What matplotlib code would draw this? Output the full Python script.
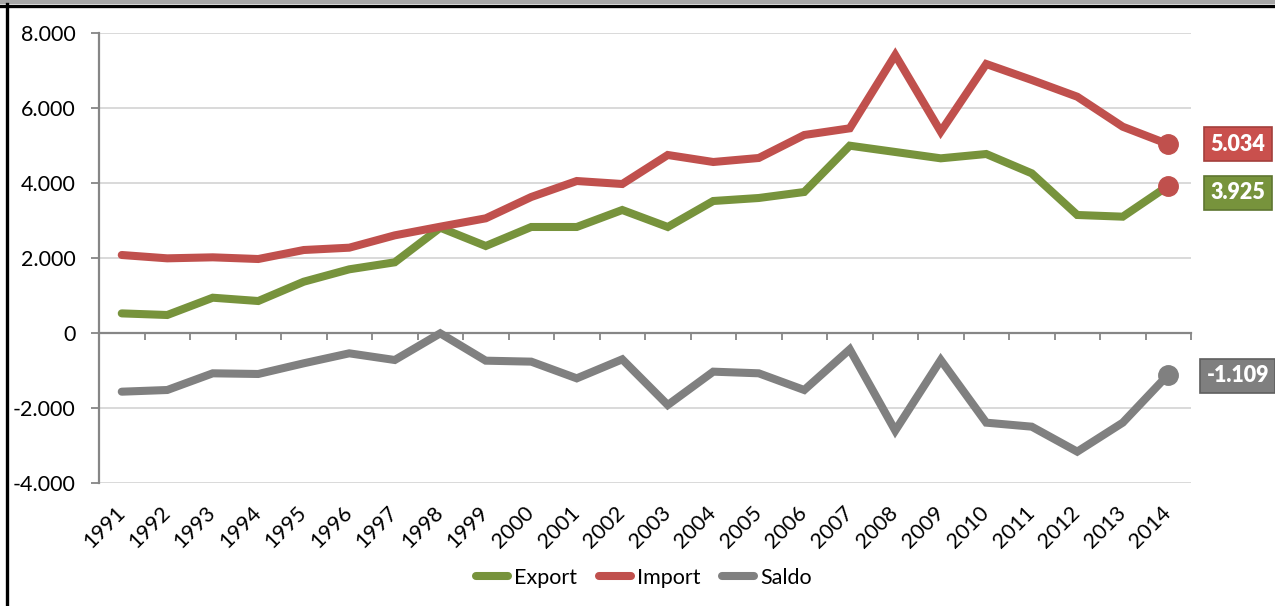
import numpy as np
import matplotlib
matplotlib.use('Agg')
import matplotlib.pyplot as plt
from matplotlib.ticker import FuncFormatter
from matplotlib.lines import Line2D
from matplotlib.patches import Rectangle

plt.rcParams['font.family'] = ['Lato', 'DejaVu Sans']

years = [str(y) for y in range(1991, 2015)]
export = [523, 480, 941, 853, 1368, 1698, 1885, 2808, 2320, 2827, 2827, 3280,
          2827, 3520, 3600, 3760, 4995, 4827, 4658, 4773, 4258, 3147, 3102, 3925]
imports = [2080, 1991, 2018, 1973, 2213, 2275, 2604, 2835, 3058, 3627, 4053, 3973,
           4747, 4560, 4667, 5280, 5458, 7413, 5369, 7173, 6747, 6301, 5501, 5034]
saldo = [-1565, -1520, -1075, -1093, -808, -542, -720, -9, -738, -764, -1209, -702,
         -1920, -1031, -1075, -1520, -436, -2604, -720, -2391, -2498, -3164, -2391, -1109]
end_labels = ['3.925', '5.034', '-1.109']

GREEN = '#77933C'
RED = '#C0504D'
GREY = '#808080'

x = np.arange(len(years))

fig = plt.figure(figsize=(12.75, 6.06), dpi=100)
ax = fig.add_axes([99/1275, 1-483/606, (1191-99)/1275, 450/606])

lw = 5.8
ax.plot(x, export, color=GREEN, lw=lw, solid_capstyle='round', solid_joinstyle='miter', label='Export', zorder=3)
ax.plot(x, imports, color=RED, lw=lw, solid_capstyle='round', solid_joinstyle='miter', label='Import', zorder=3)
ax.plot(x, saldo, color=GREY, lw=lw, solid_capstyle='round', solid_joinstyle='miter', label='Saldo', zorder=3)

# end markers (export end point is drawn red in the original)
ax.plot(x[-1], export[-1], 'o', color=RED, ms=14, zorder=4)
ax.plot(x[-1], imports[-1], 'o', color=RED, ms=14, zorder=4)
ax.plot(x[-1], saldo[-1], 'o', color=GREY, ms=14, zorder=4)

# value boxes to the right
for val, txt, fc, ec, dy in [(export[-1], end_labels[0], '#77933C', '#5E7530', -5),
                             (imports[-1], end_labels[1], '#C9504D', '#A33F3C', 0),
                             (saldo[-1], end_labels[2], '#7F7F7F', '#5F5F5F', -1)]:
    ax.annotate(txt, xy=(x[-1], val), xytext=(50, dy), textcoords='offset points',
                ha='center', va='center', color='white', fontsize=15.5, fontweight='heavy',
                bbox=dict(boxstyle='square,pad=0.3', fc=fc, ec=ec, lw=1.2),
                annotation_clip=False)

ax.set_xlim(-0.5, len(years) - 0.5)
ax.set_ylim(-4000, 8000)
ax.set_yticks(np.arange(-4000, 8001, 2000))
ax.yaxis.set_major_formatter(FuncFormatter(lambda v, p: '{:,.0f}'.format(v).replace(',', '.')))
ax.yaxis.grid(True, color='#D9D9D9', lw=1.4)
ax.set_axisbelow(True)

for s in ['top', 'right']:
    ax.spines[s].set_visible(False)
ax.spines['left'].set_color('#868686')
ax.spines['left'].set_linewidth(1.6)
ax.spines['bottom'].set_position(('data', 0))
ax.spines['bottom'].set_color('#868686')
ax.spines['bottom'].set_linewidth(1.6)
ax.spines['bottom'].set_zorder(2)

ax.set_xticks(np.arange(-0.5, len(years), 1))
ax.tick_params(axis='x', length=5, width=1.3, color='#868686', labelbottom=False, direction='out')
ax.tick_params(axis='y', length=6, width=1.3, color='#868686', labelsize=15.5, pad=11)

sec = ax.secondary_xaxis(0)
sec.set_xticks(x, labels=years, rotation=45, ha='right', va='center', rotation_mode='anchor')
sec.tick_params(length=0, pad=19, labelsize=15.5)
sec.spines['bottom'].set_visible(False)

fig.legend(loc='center', bbox_to_anchor=(0.505, 1-578/606), ncol=3, frameon=False,
           fontsize=15.5, handlelength=1.5, handletextpad=0.28, columnspacing=1.0)

# outer frame
fig.add_artist(Rectangle((0, 1-4/606), 1, 4/606, transform=fig.transFigure, color='#A6A6A6', lw=0))
fig.add_artist(Line2D([0, 1], [1-5.5/606, 1-5.5/606], transform=fig.transFigure, color='black', lw=2.4))
fig.add_artist(Line2D([7/1275, 7/1275], [0, 1-4/606], transform=fig.transFigure, color='black', lw=2.4))

fig.savefig('out.png', dpi=100)
